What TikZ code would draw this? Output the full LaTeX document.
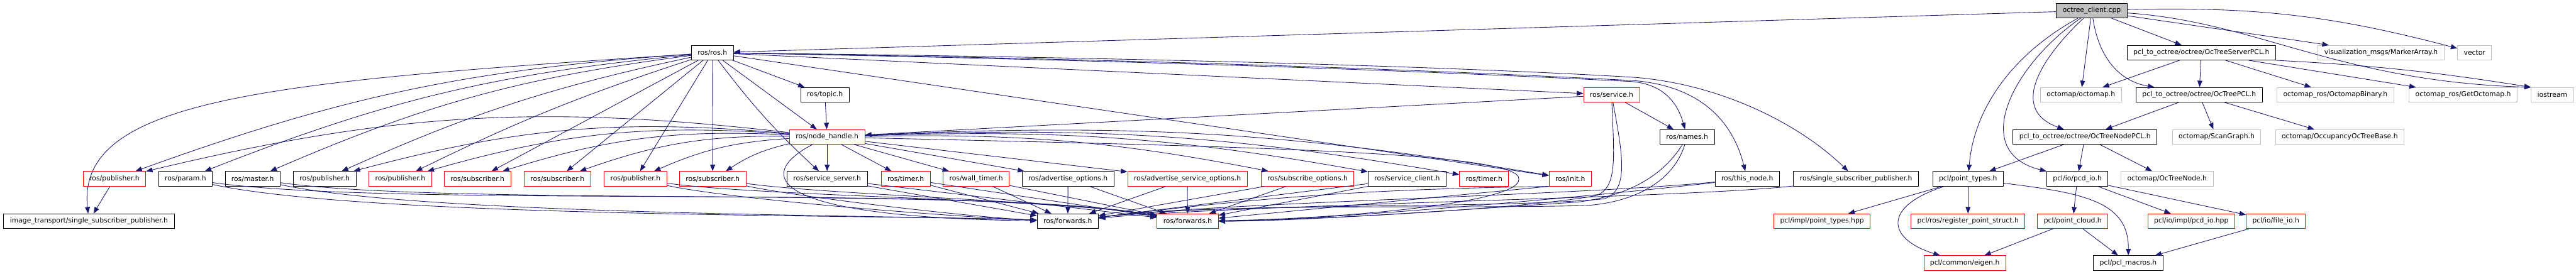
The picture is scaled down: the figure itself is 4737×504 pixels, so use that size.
\documentclass[tikz,border=0pt]{standalone}
\usepackage{fontspec}
\setmainfont{DejaVu Sans}
\usetikzlibrary{arrows.meta}
\definecolor{edge-blue}{HTML}{191970}
\definecolor{trunc-red}{HTML}{FF0000}
\definecolor{ext-grey}{HTML}{BFBFBF}

\begin{document}
\begin{tikzpicture}[x=0.5pt, y=0.5pt,
      every node/.style={font=\fontsize{6.25}{7}\selectfont},
      file/.style={draw=black, fill=white, line width=0.5pt,
          minimum height=13.5pt, inner xsep=5.75pt, inner ysep=0pt},
      trunc/.style={file, draw=trunc-red},
      ext/.style={file, draw=ext-grey},
      root/.style={file, fill=ext-grey},
      dep/.style={draw=edge-blue, line width=0.5pt,
          -{Triangle[length=6pt,width=4.5pt]}},
      lowA/.style={out=-12, in=178, looseness=.5},
      lowB/.style={out=-8, in=170, looseness=.5}]
    \path[use as bounding box, fill=white] (0,0) rectangle (4737,-504);

    % row 1
    \node[root] (CLIENT) at (3846.5,-19.5) {octree\_client.cpp};
    % row 2
    \node[file] (ROS) at (1310,-97) {ros/ros.h};
    \node[file] (SRVPCL) at (4048,-97) {pcl\_to\_octree/octree/OcTreeServerPCL.h};
    \node[ext] (MARKER) at (4378.5,-97) {visualization\_msgs/MarkerArray.h};
    \node[ext] (VECTOR) at (4550.5,-97) {vector};
    % row 3
    \node[file] (TOPIC) at (1517,-174.5) {ros/topic.h};
    \node[trunc] (SERVICE) at (2963.5,-174.5) {ros/service.h};
    \node[ext] (OCTOMAP) at (3826.5,-174.5) {octomap/octomap.h};
    \node[file] (TREEPCL) at (4044,-174.5) {pcl\_to\_octree/octree/OcTreePCL.h};
    \node[ext] (BINARY) at (4294.5,-174.5) {octomap\_ros/OctomapBinary.h};
    \node[ext] (GETMAP) at (4529.5,-174.5) {octomap\_ros/GetOctomap.h};
    \node[ext] (IOSTREAM) at (4693.5,-174.5) {iostream};
    % row 4
    \node[trunc] (HANDLE) at (1521,-252) {ros/node\_handle.h};
    \node[file] (NAMES) at (3102.5,-252) {ros/names.h};
    \node[file] (NODEPCL) at (3834,-252) {pcl\_to\_octree/octree/OcTreeNodePCL.h};
    \node[ext] (SCANGRAPH) at (4076,-252) {octomap/ScanGraph.h};
    \node[ext] (OCCUPANCY) at (4302.5,-252) {octomap/OccupancyOcTreeBase.h};
    % row 5
    \node[trunc] (PUBA) at (210.5,-329) {ros/publisher.h};
    \node[file] (PARAM) at (341,-329) {ros/param.h};
    \node[file] (MASTER) at (464.5,-329) {ros/master.h};
    \node[file] (PUBB) at (597,-329) {ros/publisher.h};
    \node[trunc] (PUBC) at (736,-329) {ros/publisher.h};
    \node[trunc] (SUBA) at (878,-329) {ros/subscriber.h};
    \node[trunc] (SUBB) at (1025,-329) {ros/subscriber.h};
    \node[trunc] (PUBD) at (1168.5,-329) {ros/publisher.h};
    \node[trunc] (SUBC) at (1310.5,-329) {ros/subscriber.h};
    \node[file] (SRVSERVER) at (1521,-329) {ros/service\_server.h};
    \node[trunc] (TIMERA) at (1665.5,-329) {ros/timer.h};
    \node[trunc] (WALLTIMER) at (1795,-329) {ros/wall\_timer.h};
    \node[file] (ADVOPT) at (1964,-329) {ros/advertise\_options.h};
    \node[trunc] (ADVSRVOPT) at (2183.5,-329) {ros/advertise\_service\_options.h};
    \node[trunc] (SUBOPT) at (2404.5,-329) {ros/subscribe\_options.h};
    \node[file] (SRVCLIENT) at (2587.5,-329) {ros/service\_client.h};
    \node[trunc] (TIMERB) at (2729,-329) {ros/timer.h};
    \node[trunc] (INIT) at (2887.5,-329) {ros/init.h};
    \node[file] (THISNODE) at (3213,-329) {ros/this\_node.h};
    \node[file] (SINGLESUB) at (3413,-329) {ros/single\_subscriber\_publisher.h};
    \node[file] (PTYPES) at (3619,-329) {pcl/point\_types.h};
    \node[file] (PCDIO) at (3820,-329) {pcl/io/pcd\_io.h};
    \node[ext] (OCNODE) at (3985,-329) {octomap/OcTreeNode.h};
    % row 6
    \node[file] (IMGTRANS) at (163.5,-407) {image\_transport/single\_subscriber\_publisher.h};
    \node[file] (FWDA) at (1963.5,-407) {ros/forwards.h};
    \node[trunc] (FWDB) at (2184,-407) {ros/forwards.h};
    \node[trunc] (IMPLTYPES) at (3350.5,-407) {pcl/impl/point\_types.hpp};
    \node[trunc] (REGISTER) at (3619,-407) {pcl/ros/register\_point\_struct.h};
    \node[trunc] (CLOUD) at (3811.5,-407) {pcl/point\_cloud.h};
    \node[trunc] (PCDIMPL) at (4029.5,-407) {pcl/io/impl/pcd\_io.hpp};
    \node[trunc] (FILEIO) at (4185,-407) {pcl/io/file\_io.h};
    % row 7
    \node[trunc] (EIGEN) at (3613,-484) {pcl/common/eigen.h};
    \node[file] (MACROS) at (3913.5,-484) {pcl/pcl\_macros.h};

    % octree_client.cpp
    \draw[dep] (CLIENT) -- (ROS);
    \draw[dep] (CLIENT) -- (SRVPCL);
    \draw[dep] (CLIENT) -- (MARKER);
    \draw[dep] (CLIENT) to[bend left=8] (VECTOR);
    \draw[dep] (CLIENT) .. controls (4150,-40) and (4300,-150) .. (IOSTREAM.north west);
    \draw[dep] (CLIENT) -- (OCTOMAP);
    \draw[dep] (CLIENT) .. controls (3860,-110) and (3900,-150) .. (TREEPCL);
    \draw[dep] (CLIENT) .. controls (3760,-100) and (3690,-200) .. (NODEPCL);
    \draw[dep] (CLIENT) .. controls (3700,-100) and (3630,-200) .. (PTYPES);
    \draw[dep] (CLIENT) .. controls (3700,-120) and (3620,-280) .. (PCDIO);

    % OcTreeServerPCL.h and below
    \draw[dep] (SRVPCL) -- (OCTOMAP);
    \draw[dep] (SRVPCL) -- (TREEPCL);
    \draw[dep] (SRVPCL) -- (BINARY);
    \draw[dep] (SRVPCL) -- (GETMAP);
    \draw[dep] (SRVPCL.south east) to[bend left=3] (IOSTREAM.north west);
    \draw[dep] (TREEPCL) -- (NODEPCL);
    \draw[dep] (TREEPCL) -- (SCANGRAPH);
    \draw[dep] (TREEPCL) -- (OCCUPANCY);
    \draw[dep] (NODEPCL) -- (PTYPES);
    \draw[dep] (NODEPCL) -- (PCDIO);
    \draw[dep] (NODEPCL) -- (OCNODE);

    % pcl headers
    \draw[dep] (PTYPES) -- (IMPLTYPES);
    \draw[dep] (PTYPES) -- (REGISTER);
    \draw[dep] (PTYPES) .. controls (3460,-380) and (3470,-440) .. (EIGEN);
    \draw[dep] (PTYPES) .. controls (3830,-355) and (3915,-370) .. (MACROS);
    \draw[dep] (PCDIO) -- (CLOUD);
    \draw[dep] (PCDIO) -- (PCDIMPL);
    \draw[dep] (PCDIO) -- (FILEIO);
    \draw[dep] (CLOUD) -- (EIGEN);
    \draw[dep] (CLOUD) -- (MACROS);
    \draw[dep] (FILEIO) -- (MACROS);

    % ros/ros.h
    \draw[dep] (ROS) .. controls (500,-150) and (140,-180) .. (IMGTRANS);
    \draw[dep] (ROS) to[bend right=8] (PUBA);
    \draw[dep] (ROS) to[bend right=8] (PARAM);
    \draw[dep] (ROS) to[bend right=8] (MASTER);
    \draw[dep] (ROS) to[bend right=6] (PUBB);
    \draw[dep] (ROS) to[bend right=4] (PUBC);
    \draw[dep] (ROS) -- (SUBA);
    \draw[dep] (ROS) -- (SUBB);
    \draw[dep] (ROS) -- (PUBD);
    \draw[dep] (ROS) -- (SUBC);
    \draw[dep] (ROS) to[bend right=5] (SRVSERVER);
    \draw[dep] (ROS) -- (HANDLE);
    \draw[dep] (ROS) -- (TOPIC);
    \draw[dep] (ROS) -- (SERVICE);
    \draw[dep] (ROS) -- (INIT);
    \draw[dep] (ROS) .. controls (2300,-115) and (2800,-140) .. (3000,-150)
          .. controls (3060,-155) and (3085,-190) .. (NAMES);
    \draw[dep] (ROS) .. controls (2300,-112) and (2800,-138) .. (3000,-148)
          .. controls (3100,-155) and (3180,-200) .. (THISNODE);
    \draw[dep] (ROS) .. controls (2300,-108) and (2800,-130) .. (3000,-142)
          .. controls (3150,-152) and (3300,-220) .. (SINGLESUB);
    \draw[dep] (TOPIC) -- (HANDLE);
    \draw[dep] (PUBA) -- (IMGTRANS);

    % ros/service.h
    \draw[dep] (SERVICE) -- (HANDLE);
    \draw[dep] (SERVICE) -- (NAMES);

    % ros/node_handle.h
    \foreach \dst in {PUBA, PUBB, PUBC, SUBA, SUBB, PUBD, SUBC}
      \draw[dep] (HANDLE) to[bend right=10] (\dst);
    \foreach \dst in {SRVSERVER, TIMERA, WALLTIMER, ADVOPT, ADVSRVOPT}
      \draw[dep] (HANDLE) -- (\dst);
    \foreach \dst in {SUBOPT, SRVCLIENT, TIMERB, INIT}
      \draw[dep] (HANDLE) to[bend left=6] (\dst);
    \draw[dep] (HANDLE) .. controls (1390,-320) and (1400,-400) .. (FWDA);
    \draw[dep] (HANDLE) .. controls (2300,-270) and (2800,-280) .. (2793,-330)
          .. controls (2795,-375) and (2450,-403) .. (FWDB);

    % into ros/forwards.h
    \foreach \src in {PARAM, MASTER, PUBD, SUBC} {
      \draw[dep] (\src) to[lowA] (FWDA);
      \draw[dep] (\src) to[lowB] (FWDB);
    }
    \foreach \src in {SRVSERVER, TIMERA, WALLTIMER, ADVOPT, ADVSRVOPT,
                      SUBOPT, SRVCLIENT} {
      \draw[dep] (\src) -- (FWDA);
      \draw[dep] (\src) -- (FWDB);
    }
    \draw[dep] (INIT.south west) to[bend right=3] (FWDA);
    \draw[dep] (INIT.south west) -- (FWDB);
    \draw[dep] (SERVICE) .. controls (2968,-290) and (2975,-345) .. (2935,-360)
          .. controls (2800,-385) and (2400,-405) .. (FWDB);
    \draw[dep] (SERVICE) .. controls (2985,-290) and (2995,-350) .. (2950,-366)
          .. controls (2750,-385) and (2250,-372) .. (FWDA);
    \draw[dep] (NAMES) .. controls (3060,-320) and (3000,-360) .. (2900,-372)
          .. controls (2700,-385) and (2400,-407) .. (FWDB);
    \draw[dep] (NAMES) .. controls (3080,-325) and (3020,-370) .. (2920,-378)
          .. controls (2700,-385) and (2250,-372) .. (FWDA);
    \draw[dep] (THISNODE) .. controls (2900,-365) and (2400,-407) .. (FWDB);
    \draw[dep] (THISNODE) .. controls (2900,-360) and (2250,-372) .. (FWDA);
    \draw[dep] (SINGLESUB) .. controls (3100,-365) and (2300,-375) .. (FWDA);
  \end{tikzpicture}
\end{document}
